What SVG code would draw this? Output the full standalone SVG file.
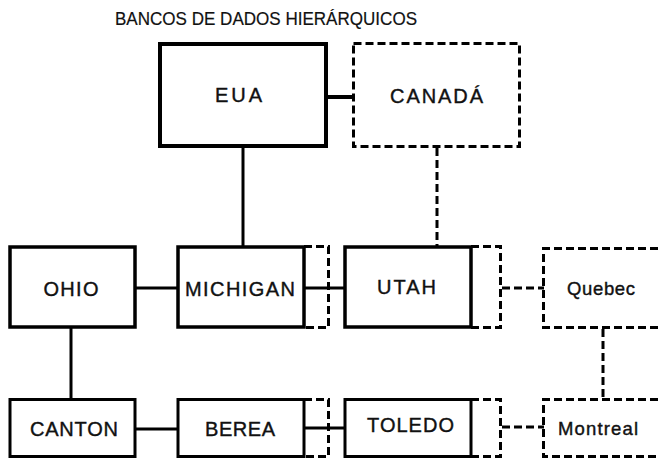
<svg xmlns="http://www.w3.org/2000/svg" width="658" height="461" viewBox="0 0 658 461">
  <style>
    .box { fill: none; stroke: #000; stroke-width: 3.5; }
    .dbox { fill: none; stroke: #000; stroke-width: 3; stroke-dasharray: 8 4; }
    .line { fill: none; stroke: #000; stroke-width: 3; }
    .dline { fill: none; stroke: #000; stroke-width: 3; stroke-dasharray: 8 4; }
    .lbl { font-family: "Liberation Sans", Arial, sans-serif; font-size: 20px; fill: #111; stroke: #111; stroke-width: 0.4; text-anchor: middle; }
    .low { font-size: 18.5px; }
    .title { font-family: "Liberation Sans", Arial, sans-serif; font-size: 19px; fill: #111; stroke: #111; stroke-width: 0.2; }
  </style>
  <rect width="658" height="461" fill="#fff"/>

  <text class="title" x="115" y="25" textLength="302" lengthAdjust="spacingAndGlyphs">BANCOS DE DADOS HIERÁRQUICOS</text>

  <!-- connectors -->
  <g id="connectors">
    <line class="line" x1="328" y1="97" x2="353" y2="97" style="stroke-width:4"/>
    <line class="line" x1="243" y1="148" x2="243" y2="246"/>
    <line class="dline" x1="437" y1="148" x2="437" y2="246"/>
    <line class="line" x1="136" y1="288" x2="178" y2="288"/>
    <line class="line" x1="305" y1="288" x2="345" y2="288"/>
    <line class="dline" x1="502" y1="288" x2="544" y2="288"/>
    <line class="line" x1="71" y1="328" x2="71" y2="400"/>
    <line class="line" x1="136" y1="429" x2="178" y2="429"/>
    <line class="line" x1="305" y1="428" x2="345" y2="428"/>
    <line class="dline" x1="502" y1="427" x2="544" y2="427"/>
    <line class="dline" x1="603" y1="329" x2="603" y2="399"/>
  </g>

  <g id="eua">
    <rect class="box" x="160" y="44" width="166" height="102" style="stroke-width:4"/>
    <text class="lbl" x="238.5" y="102" textLength="47">EUA</text>
  </g>
  <g id="canada">
    <rect class="dbox" x="353.5" y="43.5" width="166" height="103"/>
    <text class="lbl" x="436.5" y="103" textLength="93">CANADÁ</text>
  </g>

  <g id="ohio">
    <rect class="box" x="10" y="247" width="125" height="80"/>
    <text class="lbl" x="71" y="296" textLength="55">OHIO</text>
  </g>
  <g id="michigan">
    <rect class="box" x="178" y="247" width="126" height="80"/>
    <path class="dbox" d="M304,246.5 H328.5 V327.5 H304"/>
    <text class="lbl" x="240" y="296" textLength="110">MICHIGAN</text>
  </g>
  <g id="utah">
    <rect class="box" x="345" y="247" width="126" height="80"/>
    <path class="dbox" d="M471,246.5 H500.5 V327.5 H471"/>
    <text class="lbl" x="406.5" y="294" textLength="59">UTAH</text>
  </g>
  <g id="quebec">
    <path class="dbox" d="M670,248.5 H543.5 V327.5 H670"/>
    <text class="lbl low" x="601" y="295" textLength="68">Quebec</text>
  </g>

  <g id="canton">
    <rect class="box" x="10" y="399.5" width="125" height="57" style="stroke-width:3"/>
    <text class="lbl" x="74" y="436" textLength="88">CANTON</text>
  </g>
  <g id="berea">
    <rect class="box" x="178" y="399.5" width="126" height="57" style="stroke-width:3"/>
    <path class="dbox" d="M304,399.5 H328.5 V456.5 H304"/>
    <text class="lbl" x="240" y="436" textLength="70">BEREA</text>
  </g>
  <g id="toledo">
    <rect class="box" x="345" y="399.5" width="126" height="57" style="stroke-width:3"/>
    <path class="dbox" d="M471,399.5 H500.5 V456.5 H471"/>
    <text class="lbl" x="410.5" y="432" textLength="87">TOLEDO</text>
  </g>
  <g id="montreal">
    <path class="dbox" d="M670,399.5 H543.5 V456.5 H670"/>
    <text class="lbl low" x="598" y="435" textLength="80">Montreal</text>
  </g>
</svg>
